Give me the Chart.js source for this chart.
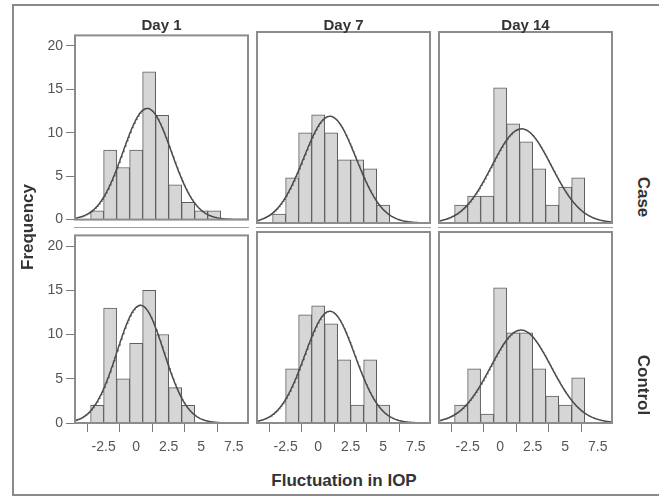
<!DOCTYPE html>
<html>
<head>
<meta charset="utf-8">
<script src="https://cdn.jsdelivr.net/npm/chart.js@4"></script>
<style>
  body { margin: 0; background: #fff; width: 659px; height: 498px; position: relative; overflow: hidden;
         font-family: 'Liberation Sans', Arial, sans-serif; }
  #frame { position: absolute; left: 12px; top: 4px; width: 670px; height: 488px; border: 2px solid #8a8a8a; }
  canvas { position: absolute; }
  .lbl { position: absolute; font-weight: bold; color: #333; white-space: nowrap; transform: translate(-50%, -50%); }
  .sep { position: absolute; height: 1px; background: #a0a0a0; }
</style>
</head>
<body>
<div id="frame"></div>

<script>
// --- Data ---
const days = ['Day 1', 'Day 7', 'Day 14'];
const groups = ['Case', 'Control'];
const binCenters = [-3, -2, -1, 0, 1, 2, 3, 4, 5, 6];

const caseDay1 = [1, 8, 6, 8, 17, 12, 4, 2, 1, 1];
const caseDay7 = [1, 5, 10, 12, 10, 7, 7, 6, 2, 0];
const caseDay14 = [2, 3, 3, 15, 11, 9, 6, 2, 4, 5];
const controlDay1 = [2, 13, 5, 9, 15, 10, 4, 2, 0, 0];
const controlDay7 = [0, 6, 12, 13, 11, 7, 2, 7, 2, 0];
const controlDay14 = [2, 6, 1, 15, 10, 10, 6, 3, 2, 5];

// normal curve fitted in each panel (mean, sd)
const caseCurveMean = [0.85, 0.9, 1.65];
const caseCurveSD = [1.87, 2.02, 2.29];
const controlCurveMean = [0.33, 0.9, 1.6];
const controlCurveSD = [1.8, 1.93, 2.32];

const xTickValues = [-2.5, 0, 2.5, 5, 7.5];
const yTickValues = [0, 5, 10, 15, 20];

// --- Layout ---
const X_MIN = -4.7, X_MAX = 8.6, Y_MAX = 21.2, BIN_W = 1;
const PANEL_W = 173, PANEL_H = 191;
const boxLeft = [75, 257, 439];
const boxTop = [32, 232];

Chart.defaults.font.family = "'Liberation Sans', Arial, sans-serif";

const rowsData = [[caseDay1, caseDay7, caseDay14], [controlDay1, controlDay7, controlDay14]];
const rowsMean = [caseCurveMean, controlCurveMean];
const rowsSD = [caseCurveSD, controlCurveSD];

function normalCurve(mean, sd, n) {
    const pts = [];
    for (let x = X_MIN; x <= X_MAX + 1e-9; x += 0.05) {
        const y = n * BIN_W / (sd * Math.sqrt(2 * Math.PI)) * Math.exp(-0.5 * ((x - mean) / sd) ** 2);
        pts.push({ x, y });
    }
    return pts;
}

const panelBox = {
    id: 'panelBox',
    afterDatasetsDraw(chart) {
        const { ctx, chartArea: a } = chart;
        ctx.save();
        ctx.strokeStyle = '#8c8c8c';
        ctx.lineWidth = 2;
        ctx.strokeRect(a.left, a.top, a.right - a.left, a.bottom - a.top);
        ctx.restore();
    }
};

function addLabel(text, x, y, size, rotate) {
    const el = document.createElement('div');
    el.className = 'lbl';
    el.textContent = text;
    el.style.left = x + 'px';
    el.style.top = y + 'px';
    el.style.fontSize = size + 'px';
    if (rotate) el.style.transform = `translate(-50%, -50%) rotate(${rotate}deg)`;
    document.body.appendChild(el);
}

function makePanel(row, col) {
    const counts = rowsData[row][col];
    const n = counts.reduce((a, b) => a + b, 0);
    const showY = col === 0, showX = row === 1;
    const padL = 4, padR = 4, padT = 8, padB = showX ? 4 : 8;
    const yW = showY ? 36 : 0, xH = showX ? 32 : 0;

    const canvas = document.createElement('canvas');
    const w = PANEL_W + padL + padR + yW;
    const h = PANEL_H + padT + padB + xH;
    canvas.width = w; canvas.height = h;
    canvas.style.width = w + 'px'; canvas.style.height = h + 'px';
    canvas.style.left = (boxLeft[col] - padL - yW) + 'px';
    canvas.style.top = (boxTop[row] - padT) + 'px';
    document.body.appendChild(canvas);

    const tickGrid = { drawOnChartArea: false, drawTicks: true, tickLength: 9, color: '#7a7a7a', lineWidth: 1 };
    const tickFont = { size: 14 };

    new Chart(canvas.getContext('2d'), {
        type: 'bar',
        data: {
            datasets: [
                {
                    type: 'line',
                    data: normalCurve(rowsMean[row][col], rowsSD[row][col], n),
                    borderColor: '#4a4a4a', borderWidth: 1.5, pointRadius: 0, tension: 0, fill: false, order: 1
                },
                {
                    type: 'bar',
                    data: binCenters.map((c, i) => ({ x: c, y: counts[i] || null })),
                    backgroundColor: '#d6d6d6', borderColor: '#5e5e5e', borderWidth: 1,
                    barPercentage: 1, categoryPercentage: 1, order: 2
                }
            ]
        },
        options: {
            responsive: false,
            animation: false,
            layout: { padding: { left: padL, right: padR, top: padT, bottom: padB } },
            plugins: { legend: { display: false }, tooltip: { enabled: false } },
            scales: {
                x: {
                    type: 'linear', min: X_MIN, max: X_MAX, offset: false, display: showX,
                    afterBuildTicks: s => { s.ticks = xTickValues.map(v => ({ value: v })); },
                    afterFit: s => { s.height = xH; },
                    grid: tickGrid,
                    border: { display: false },
                    ticks: { padding: 7, color: '#555', font: tickFont, maxRotation: 0, autoSkip: false, callback: v => String(v) }
                },
                y: {
                    type: 'linear', min: 0, max: Y_MAX, display: showY,
                    afterBuildTicks: s => { s.ticks = yTickValues.map(v => ({ value: v })); },
                    afterFit: s => { s.width = yW; },
                    grid: tickGrid,
                    border: { display: false },
                    ticks: { padding: 3, color: '#555', font: tickFont, autoSkip: false, callback: v => String(v) }
                }
            }
        },
        plugins: [panelBox]
    });
}

for (let r = 0; r < 2; r++) {
    for (let c = 0; c < 3; c++) makePanel(r, c);
}

// thin strip line under the top row
boxLeft.forEach(l => {
    const s = document.createElement('div');
    s.className = 'sep';
    s.style.left = (l - 1) + 'px';
    s.style.top = '227px';
    s.style.width = (PANEL_W + 2) + 'px';
    document.body.appendChild(s);
});

days.forEach((d, i) => addLabel(d, boxLeft[i] + PANEL_W / 2, 24, 15));
addLabel(groups[0], 643, 197, 17, 90);
addLabel(groups[1], 643, 385, 17, 90);
addLabel('Frequency', 28, 227, 17, -90);
addLabel('Fluctuation in IOP', 344, 481, 17);
</script>
</body>
</html>
